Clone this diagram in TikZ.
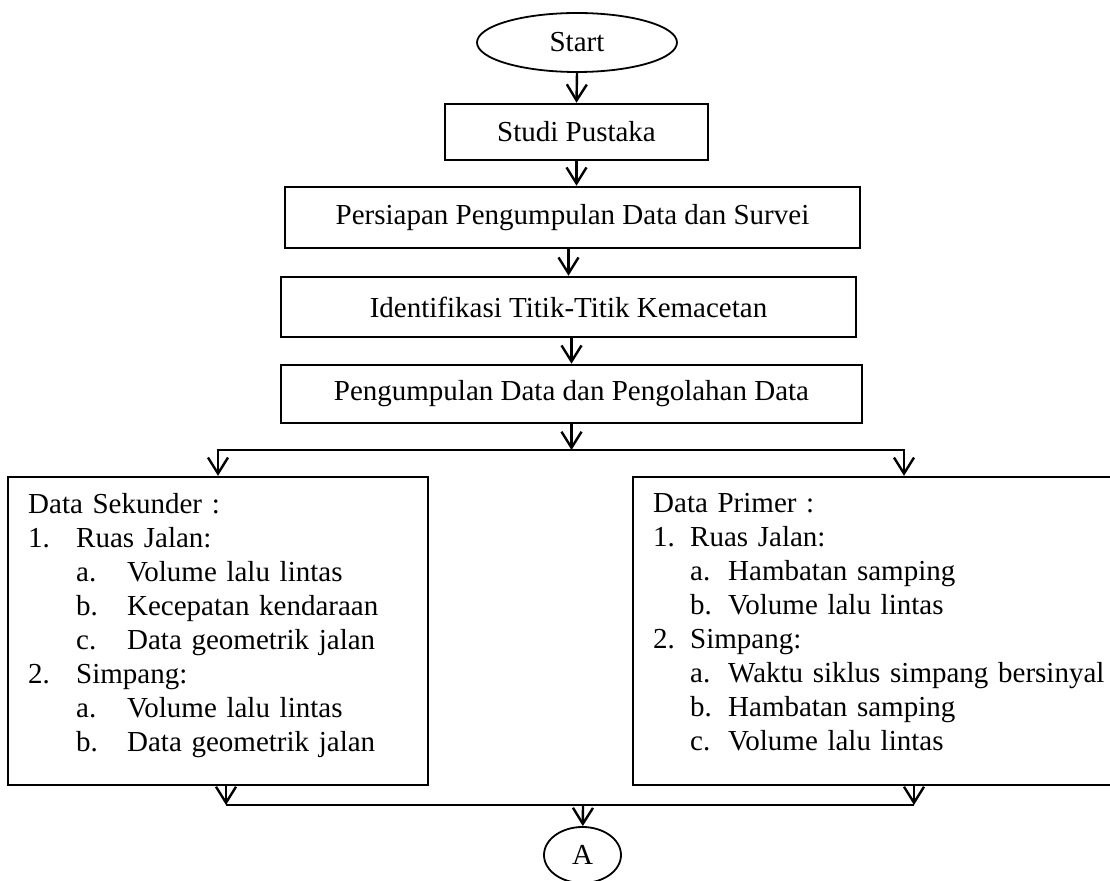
\documentclass[tikz,border=0pt]{standalone}
\usepackage{fontspec}
\setmainfont{Liberation Serif}
\usetikzlibrary{arrows.meta,shapes.geometric}
\newcommand{\BodyFont}{\fontsize{14.5}{17}\selectfont}
\newcommand{\NumItem}[2]{\makebox[#1][l]{#2}}% width label
\newcommand{\SubItem}[3]{\hspace*{#1}\makebox[#2][l]{#3}}% indent width label
\tikzset{
  flowbox/.style={draw,rectangle,line width=1.3pt,inner sep=0pt,font=\BodyFont},
  termnode/.style={draw,ellipse,line width=0.9pt,inner sep=0pt,font=\BodyFont},
  listbox/.style={draw,rectangle,line width=1.2pt,inner sep=0pt,minimum height=154pt},
  listtext/.style={inner sep=0pt,anchor=north west,align=left,font=\BodyFont},
  arw/.style={-{Straight Barb[length=8pt,width=10pt]},line width=1.2pt},
  arwboth/.style={{Straight Barb[length=8pt,width=10pt]}-{Straight Barb[length=8pt,width=10pt]},line width=1.2pt},
  wire/.style={line width=1.3pt}
}

\begin{document}
\begin{tikzpicture}[x=0.5pt,y=0.5pt]
\clip (0,0) rectangle (1110,880);
\useasboundingbox (0,0) rectangle (1110,880);
% main column
\node[termnode,minimum width=100pt,minimum height=29.5pt] (start) at (577,837.5) {Start};
\node[flowbox,minimum width=131.5pt,minimum height=28pt] (studi) at (576.5,748) {Studi Pustaka};
\node[flowbox,minimum width=287.5pt,minimum height=30.5pt] (siap) at (572.5,662.5) {Persiapan Pengumpulan Data dan Survei};
\node[flowbox,minimum width=287.5pt,minimum height=30pt] (idf) at (568.5,573) {Identifikasi Titik-Titik Kemacetan};
\node[flowbox,minimum width=290.5pt,minimum height=29pt] (kumpul) at (571.5,486) {Pengumpulan Data dan Pengolahan Data};
% data boxes
\node[listbox,minimum width=210pt] (sek) at (218,249) {};
\node[listbox,minimum width=271pt] (prim) at (904,249) {};
\node[listtext,text width=195pt] (sektxt) at ([shift={(10.5pt,-8.6pt)}]sek.north west) {%
Data Sekunder :\\
\NumItem{24pt}{1.}Ruas Jalan:\\
\SubItem{24pt}{25.5pt}{a.}Volume lalu lintas\\
\SubItem{24pt}{25.5pt}{b.}Kecepatan kendaraan\\
\SubItem{24pt}{25.5pt}{c.}Data geometrik jalan\\
\NumItem{24pt}{2.}Simpang:\\
\SubItem{24pt}{25.5pt}{a.}Volume lalu lintas\\
\SubItem{24pt}{25.5pt}{b.}Data geometrik jalan};
\node[listtext,text width=240pt] (primtxt) at ([shift={(10.5pt,-8.6pt)}]prim.north west) {%
Data Primer :\\
\NumItem{18.5pt}{1.}Ruas Jalan:\\
\SubItem{18.5pt}{19pt}{a.}Hambatan samping\\
\SubItem{18.5pt}{19pt}{b.}Volume lalu lintas\\
\NumItem{18.5pt}{2.}Simpang:\\
\SubItem{18.5pt}{19pt}{a.}Waktu siklus simpang bersinyal\\
\SubItem{18.5pt}{19pt}{b.}Hambatan samping\\
\SubItem{18.5pt}{19pt}{c.}Volume lalu lintas};
% connector
\node[termnode,minimum width=38.5pt,minimum height=28pt] (endA) at (582.5,25) {A};
\coordinate (split) at (570,430);
\coordinate (join) at (583,75);
\draw[arw] (start.south) -- (studi.north);
\draw[arw] (studi.south) -- (studi.south |- siap.north);
\draw[arw] (idf.north |- siap.south) -- (idf.north);
\draw[arw] (kumpul.north |- idf.south) -- (kumpul.north);
\draw[arw] (kumpul.south) -- (kumpul.south |- split);
\draw[arwboth] (sek.north) |- (split) -| (prim.north);
% merge
\draw[arw] ([xshift=4pt]sek.south) -- ([xshift=4pt]sek.south |- join);
\draw[arw] ([xshift=5pt]prim.south) -- ([xshift=5pt]prim.south |- join);
\draw[wire] ([xshift=4pt]sek.south |- join) -- ([xshift=5pt]prim.south |- join);
\draw[arw] (join) -- (endA);
\end{tikzpicture}
\end{document}
